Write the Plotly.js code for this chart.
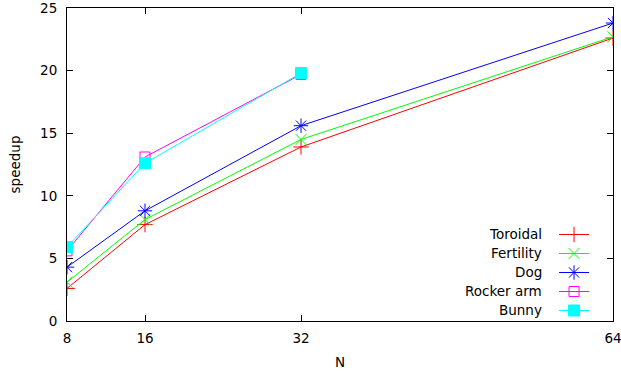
<!DOCTYPE html>
<html>
<head>
<meta charset="utf-8">
<script src="https://cdn.plot.ly/plotly-3.0.1.min.js"></script>
<style>html,body{margin:0;padding:0;background:#fff;}#chart{width:621px;height:373px;}</style>
</head>
<body>
<div id="chart"></div>
<script>
const N = [8, 16, 32, 64];
const seriesNames = ["Toroidal", "Fertility", "Dog", "Rocker arm", "Bunny"];
const toroidal = [2.6, 7.7, 13.9, 22.6];
const fertility = [3.1, 8.1, 14.5, 22.7];
const dog = [4.3, 8.8, 15.6, 23.8];
const rockerArm = [5.6, 13.1, 19.7];
const bunny = [5.9, 12.6, 19.8];
const xTicks = [8, 16, 32, 64];
const yTicks = [0, 5, 10, 15, 20, 25];

const seriesValues = [toroidal, fertility, dog, rockerArm, bunny];
const colors = ["#ff0000", "#00ff00", "#0000ff", "#ff00ff", "#00ffff"];
const symbols = ["cross-thin-open", "x-thin-open", "asterisk-open", "square-open", "square"];
const sizes = [11, 11, 12, 10, 11];
const FS = 13.5;
const FONT = "DejaVu Sans";

const traces = seriesValues.map((vals, i) => ({
  type: "scatter",
  mode: "lines+markers",
  x: N.slice(0, vals.length),
  y: vals,
  name: " ",
  line: {color: colors[i], width: 1},
  marker: {
    symbol: symbols[i],
    size: sizes[i],
    color: colors[i],
    line: {color: colors[i], width: 1}
  },
  hovertemplate: seriesNames[i] + ": %{y}<extra></extra>"
}));

const M = {l: 67, r: 8, t: 8, b: 52};
const W = 621, H = 373;
const plotH = H - M.t - M.b;
const labelX = 0.873;

const layout = {
  width: W, height: H,
  margin: M,
  paper_bgcolor: "#fff", plot_bgcolor: "#fff",
  font: {family: FONT, size: FS, color: "#000"},
  showlegend: true,
  legend: {
    x: 0.892, y: 0.155, xanchor: "left", yanchor: "middle",
    bgcolor: "rgba(0,0,0,0)", borderwidth: 0,
    font: {family: FONT, size: 8},
    itemwidth: 30, tracegroupgap: 0
  },
  xaxis: {
    range: [8, 64], tickvals: xTicks, ticktext: xTicks.map(String),
    ticks: "inside", ticklen: 6, tickcolor: "#000", tickwidth: 1,
    showline: true, linecolor: "#000", linewidth: 1, mirror: "ticks",
    showgrid: false, zeroline: false,
    tickfont: {family: FONT, size: FS},
    ticklabelstandoff: 5, ticklabeloverflow: "allow",
    title: {text: "N", font: {family: FONT, size: FS}, standoff: 12}
  },
  yaxis: {
    range: [0, 25], tickvals: yTicks, ticktext: yTicks.map(String),
    ticks: "inside", ticklen: 6, tickcolor: "#000", tickwidth: 1,
    showline: true, linecolor: "#000", linewidth: 1, mirror: "ticks",
    showgrid: false, zeroline: false,
    tickfont: {family: FONT, size: FS},
    ticklabelstandoff: 6, ticklabeloverflow: "allow",
    title: {text: "speedup", font: {family: FONT, size: FS}, standoff: 16}
  },
  annotations: []
};

Plotly.newPlot("chart", traces, layout, {displayModeBar: false, staticPlot: true}).then(gd => {
  // place the text labels to the left of each legend key, as gnuplot does
  const pts = gd.querySelectorAll(".legend .traces .legendpoints");
  const chartBox = gd.getBoundingClientRect();
  const ann = [];
  pts.forEach((p, i) => {
    const b = p.getBoundingClientRect();
    const cy = b.top + b.height / 2 - chartBox.top;
    ann.push({
      xref: "paper", yref: "paper",
      x: labelX,
      y: (H - M.b - cy) / plotH,
      text: seriesNames[i], showarrow: false,
      xanchor: "right", yanchor: "middle",
      font: {family: FONT, size: FS, color: "#000"}
    });
  });
  Plotly.relayout(gd, {annotations: ann});
});
</script>
</body>
</html>
